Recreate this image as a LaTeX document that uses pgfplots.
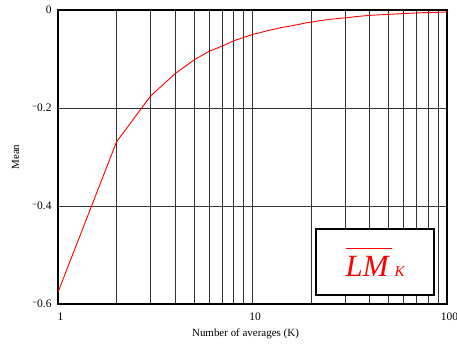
\documentclass[border=0pt]{standalone}
\usepackage{fontspec}
\setmainfont{Liberation Serif}
\usepackage{pgfplots}
\pgfplotsset{compat=1.18}
\newcommand{\mm}{\raisebox{2.4bp}{\fontsize{9}{9}\selectfont\char"2212}}
\begin{document}
\begin{tikzpicture}
\begin{axis}[
  scale only axis,
  width=389bp, height=294bp,
  xmode=log,
  xmin=1, xmax=100,
  ymin=-0.6, ymax=0,
  xtick={1,10,100},
  xticklabels={1,10,100},
  ytick={-0.6,-0.4,-0.2,0},
  yticklabels={\mm0.6,\mm0.4,\mm0.2,0},
  /pgf/number format/assume math mode=true,
  tick style={draw=none},
  xmajorgrids, xminorgrids, ymajorgrids,
  major grid style={black!80, line width=0.8bp},
  minor grid style={black!80, line width=0.8bp},
  axis line style={black, line width=1.4bp},
  ticklabel style={font=\fontsize{11.5}{12}\selectfont},
  xticklabel style={yshift=-5bp, xshift=2.5bp},
  yticklabel style={xshift=-3bp},
  xlabel={Number of averages (K)},
  ylabel={Mean},
  label style={font=\fontsize{11}{12}\selectfont},
  xlabel style={yshift=-2bp, xshift=-7bp},
  ylabel style={yshift=6bp},
  clip=true,
]
\addplot[red, line width=0.9bp] coordinates {
(1,-0.576) (2,-0.269) (3,-0.175) (4,-0.130) (5,-0.102) (6,-0.084) (7,-0.0735)
(8,-0.063) (9,-0.056) (10,-0.050) (11,-0.046) (12,-0.042) (13,-0.039) (14,-0.036)
(15,-0.034) (16,-0.032) (17,-0.030) (18,-0.028) (19,-0.026) (20,-0.025) (22,-0.022)
(25,-0.019) (30,-0.016) (35,-0.013) (40,-0.011) (45,-0.0098) (50,-0.009) (60,-0.0072)
(70,-0.006) (80,-0.005) (90,-0.0047) (100,-0.004)
};
\node[draw=black, line width=1.5bp, fill=white, minimum width=118bp, minimum height=66bp, inner sep=0pt, text=red]
  at (rel axis cs:0.815,0.143)
  {\vbox{\hrule height 1.3bp \kern 7bp \hbox{\fontsize{31}{31}\selectfont\itshape LM\kern3bp}}\kern3bp{\fontsize{15}{15}\selectfont\itshape K}};
\end{axis}
\pgfresetboundingbox
\path (current axis.south west) ++(-58bp,-42bp) coordinate (bbA);
\path (current axis.south west) ++(399bp,304bp) coordinate (bbB);
\path[use as bounding box] (bbA) rectangle (bbB);
\end{tikzpicture}
\end{document}
